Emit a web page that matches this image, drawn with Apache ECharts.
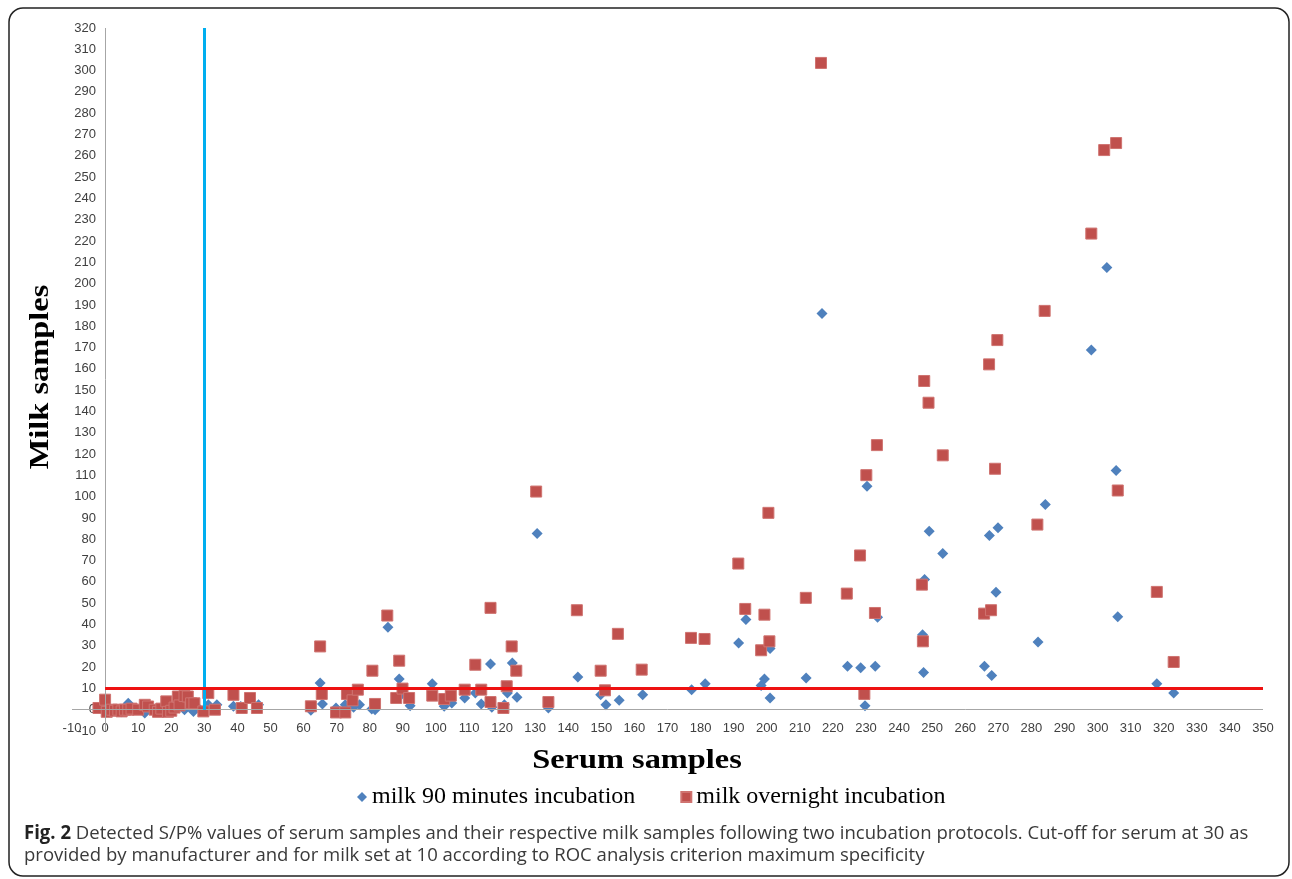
<!DOCTYPE html>
<html>
<head>
<meta charset="utf-8">
<script src="https://cdn.jsdelivr.net/npm/echarts@6/dist/echarts.min.js"></script>
<style>
  html, body { margin: 0; padding: 0; background: #fff; }
  #chart { width: 1292px; height: 879px; }
</style>
</head>
<body>
<div id="chart"></div>
<script>
// serum S/P% (x) and milk S/P% (y)
const serum90 = [0, 3, 5, 7, 9, 12, 15, 18, 21, 24, 26.7, 28, 31.2, 33.8, 38.8, 41, 46.4,
  62.2, 65, 65.7, 69.8, 72.6, 75.1, 76.9, 80.6, 81.6, 85.5, 88.9, 89.5, 92.2, 98.9, 102.5, 104.8,
  108.7, 111.9, 113.7, 116.5, 116.9, 120.7, 121.6, 123.1, 124.5, 130.6, 134, 142.9, 149.8, 151.4,
  155.4, 162.5, 177.3, 181.4, 191.5, 193.7, 198.3, 199.3, 201, 201, 211.9, 216.7, 224.4, 228.4,
  229.7, 230.3, 232.8, 233.5, 247.1, 247.4, 247.7, 249.1, 253.2, 265.8, 267.3, 268, 269.3, 269.9,
  282, 284.2, 298.1, 302.8, 305.6, 306.1, 317.9, 323];
const milk90 = [1, 0, -1, 3, 0, -1.5, 0, 0, 1, 0, -0.8, 1, 2.3, 2.3, 1.6, 1.5, 2.3,
  -0.3, 12.5, 2.7, 0.8, 2.3, 1.2, 2.3, 0.3, 0, 38.7, 14.4, 7, 1.9, 12.2, 1.6, 3.1,
  5.5, 7.8, 2.7, 21.5, 1.2, 2.3, 7.8, 21.9, 5.8, 82.7, 0.8, 15.4, 7, 2.3,
  4.4, 7, 9.4, 12.2, 31.3, 42.3, 11.3, 14.4, 28.7, 5.5, 14.9, 186, 20.4, 19.7,
  1.9, 104.9, 20.4, 43.4, 35.2, 17.5, 61.1, 83.8, 73.3, 20.4, 81.8, 16, 55.1, 85.4,
  31.8, 96.3, 168.8, 207.6, 112.3, 43.6, 12.2, 7.8];

const serumOvernight = [-2, 0, 0.5, 2, 3, 4, 5, 6, 7, 8, 10, 12, 13, 15, 16, 17, 18.5, 19, 20, 21,
  22, 22.5, 24, 25, 26, 27, 29.7, 31.2, 33.2, 38.8, 41.3, 43.8, 45.9,
  62.2, 65, 65.5, 69.8, 72.6, 73.1, 74.8, 76.4, 80.8, 81.6, 85.3, 88, 88.9, 89.9, 91.9, 98.9,
  102.5, 104.5, 108.7, 111.9, 113.7, 116.5, 116.5, 120.4, 121.4, 122.9, 124.3, 130.3, 134,
  142.6, 149.8, 151.1, 155, 162.2, 177.1, 181.2, 191.4, 193.5, 198.3, 199.3, 200.5, 200.8,
  211.8, 216.4, 224.2, 228.2, 229.5, 230.1, 232.7, 233.3, 246.9, 247.2, 247.6, 248.9, 253.2,
  265.7, 267.2, 267.8, 269, 269.7, 281.8, 284, 298.1, 302, 305.6, 306.1, 317.9, 323];
const milkOvernight = [0.8, 4.7, -1, 0, -0.5, 0, -0.8, 0, 0, 0.5, 0, 2.3, 1.5, 0, -1, 0.5, 3.9, -1, -0.5, 1,
  6.2, 2, 6.4, 6.2, 3, 3, -0.8, 7.8, 0, 7, 0.8, 5.5, 0.8,
  1.6, 29.7, 7.4, -1.3, -1.3, 7.4, 4.4, 9.4, 18.3, 2.7, 44.2, 5.5, 23, 9.9, 5.5, 6.6,
  5, 6.6, 9.4, 21.1, 9.4, 47.8, 3.6, 0.8, 11, 29.7, 18.3, 102.4, 3.6,
  46.7, 18.3, 9.1, 35.6, 18.8, 33.7, 33.2, 68.6, 47.3, 27.9, 44.6, 92.4, 32.1,
  52.5, 303.6, 54.5, 72.4, 7.4, 110.1, 45.4, 124.2, 58.7, 32.1, 154.3, 144.1, 119.4,
  45.1, 162.1, 46.7, 113.1, 173.5, 86.9, 187.2, 223.5, 262.7, 266, 102.9, 55.3, 22.4];

const serumCutoff = 30;   // manufacturer cut-off
const milkCutoff = 10;    // ROC cut-off for milk
const xRange = [-10, 350];
const yRange = [-10, 320];

const seriesNames = ['milk 90 minutes incubation', 'milk overnight incubation'];

const zip = (xs, ys) => xs.map((x, i) => [x, ys[i]]);

const chart = echarts.init(document.getElementById('chart'));

const labelStyle = { color: '#404040', fontSize: 13, fontFamily: 'Liberation Sans' };
const axisGrey = '#a6a6a6';

const option = {
  backgroundColor: '#fff',
  animation: false,
  grid: { left: 72, right: 29, top: 28, bottom: 148 },
  xAxis: {
    type: 'value',
    min: xRange[0], max: xRange[1], interval: 10,
    axisLine: { show: false, onZero: false },
    axisTick: { show: false },
    splitLine: { show: false },
    axisLabel: Object.assign({ interval: 0, margin: -3, verticalAlign: 'middle' }, labelStyle)
  },
  yAxis: {
    type: 'value',
    min: yRange[0], max: yRange[1], interval: 10,
    axisLine: { show: false, onZero: false },
    axisTick: { show: false },
    splitLine: { show: false },
    // labels sit beside the x = 0 line, like the original
    axisLabel: Object.assign({ margin: -24 }, labelStyle)
  },
  legend: {
    left: 352, top: 780,
    itemWidth: 10, itemHeight: 10, itemGap: 45,
    textStyle: { fontFamily: 'Liberation Serif', fontSize: 24, color: '#000' },
    data: [
      { name: seriesNames[0], icon: 'diamond' },
      { name: seriesNames[1], icon: 'rect' }
    ]
  },
  series: [
    {
      type: 'line', name: 'axes', silent: true, data: [],
      markLine: {
        silent: true, symbol: 'none', label: { show: false },
        lineStyle: { color: axisGrey, width: 1, type: 'solid' },
        data: [{ yAxis: 0 }, { xAxis: 0 }]
      }
    },
    {
      type: 'line', name: 'cutoffs', silent: true, data: [],
      markLine: {
        silent: true, symbol: 'none', label: { show: false },
        data: [
          [{ coord: [serumCutoff, 0], lineStyle: { color: '#00aeef', width: 3, type: 'solid' } },
           { coord: [serumCutoff, yRange[1]] }],
          [{ coord: [0, milkCutoff], lineStyle: { color: '#ee1111', width: 3, type: 'solid' } },
           { coord: [xRange[1], milkCutoff] }]
        ]
      }
    },
    {
      name: seriesNames[0], type: 'scatter', symbol: 'diamond', symbolSize: 11,
      itemStyle: { color: '#4f81bd', opacity: 1 },
      data: zip(serum90, milk90)
    },
    {
      name: seriesNames[1], type: 'scatter', symbol: 'rect', symbolSize: 11,
      itemStyle: { color: '#c0504d', borderColor: '#cf7370', borderWidth: 1, opacity: 1 },
      data: zip(serumOvernight, milkOvernight)
    }
  ],
  graphic: [
    {
      type: 'rect', z: 100, silent: true,
      shape: { x: 9, y: 8, width: 1280, height: 868, r: 14 },
      style: { fill: 'none', stroke: '#222', lineWidth: 1.5 }
    },
    {
      type: 'text', x: 637, y: 761, scaleX: 1.2,
      style: {
        text: 'Serum samples', font: 'bold 27px "Liberation Serif"', fill: '#000',
        align: 'center', verticalAlign: 'middle'
      }
    },
    {
      type: 'text', x: 41, y: 377, rotation: Math.PI / 2, scaleX: 1.2,
      style: {
        text: 'Milk samples', font: 'bold 27px "Liberation Serif"', fill: '#000',
        align: 'center', verticalAlign: 'middle'
      }
    },
    {
      type: 'text', x: 24, y: 834, scaleX: 0.976,
      style: {
        text: '{b|Fig. 2} Detected S/P% values of serum samples and their respective milk samples following two incubation protocols. Cut-off for serum at 30 as',
        font: '19px "Open Sans"', fill: '#3a3a3a', verticalAlign: 'middle',
        rich: { b: { font: 'bold 19px "Open Sans"', fill: '#222' } }
      }
    },
    {
      type: 'text', x: 24, y: 856, scaleX: 0.976,
      style: {
        text: 'provided by manufacturer and for milk set at 10 according to ROC analysis criterion maximum specificity',
        font: '19px "Open Sans"', fill: '#3a3a3a', verticalAlign: 'middle'
      }
    }
  ]
};

chart.setOption(option);
</script>
</body>
</html>
